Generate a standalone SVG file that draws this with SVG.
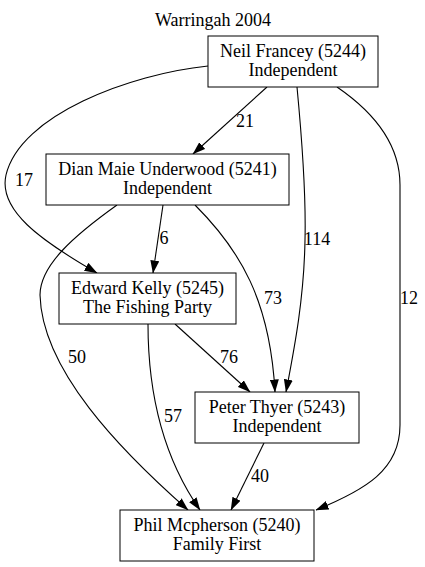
<svg xmlns="http://www.w3.org/2000/svg" width="425" height="567" viewBox="0 0 425 567">
<style>
text{font-family:"Liberation Serif","DejaVu Serif","Times New Roman",Times,serif;font-size:18px;fill:#000;text-anchor:middle}
.node rect{fill:#fff;stroke:#000;stroke-width:1}
.edges path{fill:none;stroke:#000;stroke-width:1.1;marker-end:url(#arr)}
</style>
<defs>
<marker id="arr" viewBox="0 0 13 9" markerUnits="userSpaceOnUse" markerWidth="13" markerHeight="9" refX="12.5" refY="4.5" orient="auto">
<path d="M0,0 L13,4.5 L0,9 z" fill="#000" stroke="none"/>
</marker>
</defs>
<rect width="425" height="567" fill="#fff"/>
<text x="213" y="26">Warringah 2004</text>
<g class="edges" id="edges">
<path d="M267,87 L193,154"/>
<path d="M208,66 C130,74 20,115 6,175 C-2,210 40,240 97,273"/>
<path d="M297,87 C303,150 306,200 305,240 C304,300 294,350 286,392"/>
<path d="M337,87 C375,113 400,145 400,185 L400,425 C400,470 365,490 316,510"/>
<path d="M163,205 L153,273"/>
<path d="M195,205 C240,250 270,300 275,392"/>
<path d="M117,205 C75,235 40,265 40,295 C42,370 120,450 188,510"/>
<path d="M175,324 L250,392"/>
<path d="M148,324 C148,400 165,460 200,510"/>
<path d="M264,443 L231,510"/>
<text x="245" y="127">21</text>
<text x="24" y="186">17</text>
<text x="164" y="244">6</text>
<text x="317" y="245">114</text>
<text x="273" y="304">73</text>
<text x="409" y="304">12</text>
<text x="77" y="363">50</text>
<text x="229" y="363">76</text>
<text x="173" y="422">57</text>
<text x="260" y="482">40</text>
</g>
<g class="node" id="n5244">
<rect x="208" y="36" width="170" height="51"/>
<text x="293" y="57">Neil Francey (5244)</text>
<text x="293" y="76">Independent</text>
</g>
<g class="node" id="n5241">
<rect x="46" y="154" width="243" height="51"/>
<text x="167.5" y="175">Dian Maie Underwood (5241)</text>
<text x="167.5" y="194">Independent</text>
</g>
<g class="node" id="n5245">
<rect x="59" y="273" width="177" height="51"/>
<text x="147.5" y="294">Edward Kelly (5245)</text>
<text x="147.5" y="313">The Fishing Party</text>
</g>
<g class="node" id="n5243">
<rect x="195" y="392" width="164" height="51"/>
<text x="277" y="413">Peter Thyer (5243)</text>
<text x="277" y="432">Independent</text>
</g>
<g class="node" id="n5240">
<rect x="120" y="510" width="194" height="51"/>
<text x="217" y="531">Phil Mcpherson (5240)</text>
<text x="217" y="550">Family First</text>
</g>
</svg>
